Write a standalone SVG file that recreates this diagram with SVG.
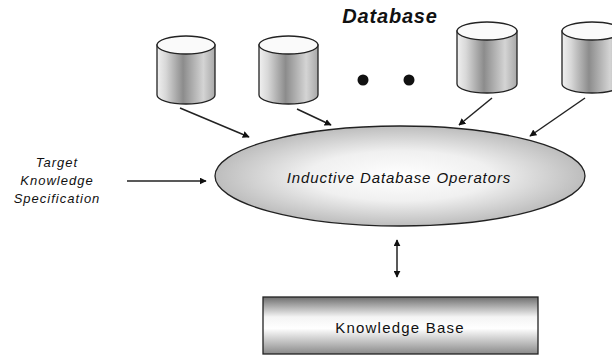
<svg xmlns="http://www.w3.org/2000/svg" width="612" height="356" viewBox="0 0 612 356">
<style>
.txt{font-family:"Liberation Sans",Arial,sans-serif;fill:#111}
.it{font-style:italic}
.line{stroke:#222;stroke-width:1.5;fill:none}
.cylb{fill:url(#cylGrad);stroke:#222;stroke-width:1.3}
.cylt{fill:#fafafa;stroke:#222;stroke-width:1.3}
</style>
<defs>
<linearGradient id="cylGrad" x1="0" y1="0" x2="1" y2="0">
<stop offset="0" stop-color="#f0f0f0"/>
<stop offset="0.15" stop-color="#d8d8d8"/>
<stop offset="0.45" stop-color="#8c8c8c"/>
<stop offset="0.8" stop-color="#d4d4d4"/>
<stop offset="1" stop-color="#a8a8a8"/>
</linearGradient>
<radialGradient id="ellGrad" cx="0.5" cy="0.5" r="0.5">
<stop offset="0" stop-color="#ffffff"/>
<stop offset="0.5" stop-color="#f0f0f0"/>
<stop offset="1" stop-color="#bdbdbd"/>
</radialGradient>
<linearGradient id="rectGrad" x1="0" y1="0" x2="0" y2="1">
<stop offset="0" stop-color="#6e6e6e"/>
<stop offset="0.35" stop-color="#f4f4f4"/>
<stop offset="0.55" stop-color="#ffffff"/>
<stop offset="1" stop-color="#8a8a8a"/>
</linearGradient>
<marker id="ah" viewBox="0 0 10 10" refX="9" refY="5" markerWidth="7" markerHeight="7" orient="auto-start-reverse" markerUnits="userSpaceOnUse">
<path d="M0,0 L10,5 L0,10 Z" fill="#111"/>
</marker>
</defs>

<text class="txt" x="390" y="23" text-anchor="middle" font-size="20" font-weight="bold" font-style="italic" letter-spacing="0.8">Database</text>

<g id="db1">
<path class="cylb" d="M157,45 L157,95 A29,9 0 0 0 215,95 L215,45 Z"/>
<ellipse class="cylt" cx="186" cy="45" rx="29" ry="9"/>
</g>
<g id="db2">
<path class="cylb" d="M259,45 L259,95 A29.5,9 0 0 0 318,95 L318,45 Z"/>
<ellipse class="cylt" cx="288.5" cy="45" rx="29.5" ry="9"/>
</g>
<g id="db3">
<path class="cylb" d="M457,31 L457,84 A30,9 0 0 0 517,84 L517,31 Z"/>
<ellipse class="cylt" cx="487" cy="31" rx="30" ry="9"/>
</g>
<g id="db4">
<path class="cylb" d="M562,31 L562,84 A30,9 0 0 0 622,84 L622,31 Z"/>
<ellipse class="cylt" cx="592" cy="31" rx="30" ry="9"/>
</g>

<g id="dots">
<circle cx="363" cy="80" r="5.5" fill="#111"/>
<circle cx="409" cy="80" r="5.5" fill="#111"/>
</g>

<g id="operators">
<ellipse cx="400" cy="176" rx="185" ry="50" fill="url(#ellGrad)" stroke="#222" stroke-width="1.3"/>
<text class="txt it" x="399" y="183" text-anchor="middle" font-size="15" letter-spacing="0.9">Inductive Database Operators</text>
</g>

<g id="target">
<text class="txt it" x="57" y="167" text-anchor="middle" font-size="13" letter-spacing="1">Target</text>
<text class="txt it" x="57" y="185" text-anchor="middle" font-size="13" letter-spacing="1">Knowledge</text>
<text class="txt it" x="57" y="203" text-anchor="middle" font-size="13" letter-spacing="1">Specification</text>
</g>

<g id="kb">
<rect x="263" y="297" width="275" height="57" fill="url(#rectGrad)" stroke="#222" stroke-width="1.3"/>
<text class="txt" x="400" y="333" text-anchor="middle" font-size="15" letter-spacing="1.2">Knowledge Base</text>
</g>

<g id="connectors">
<line class="line" x1="180" y1="108" x2="249" y2="137" marker-end="url(#ah)"/>
<line class="line" x1="297" y1="109" x2="331" y2="125" marker-end="url(#ah)"/>
<line class="line" x1="492" y1="98" x2="459" y2="125" marker-end="url(#ah)"/>
<line class="line" x1="585" y1="98" x2="530" y2="136" marker-end="url(#ah)"/>
<line class="line" x1="127" y1="181" x2="206" y2="181" marker-end="url(#ah)"/>
<line class="line" x1="397" y1="240" x2="397" y2="277" marker-start="url(#ah)" marker-end="url(#ah)"/>
</g>
</svg>
